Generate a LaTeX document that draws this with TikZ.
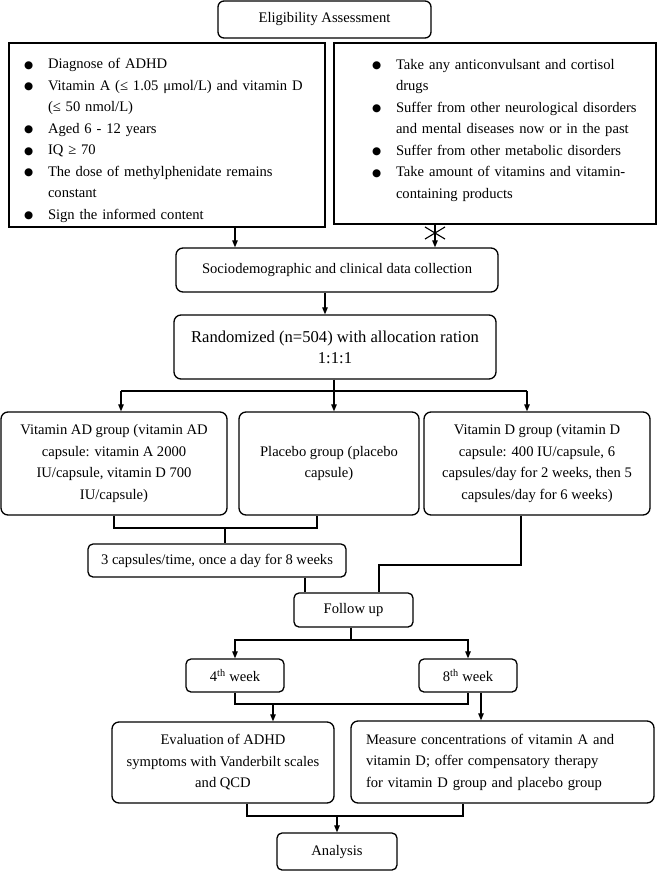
\documentclass[tikz,border=0pt]{standalone}
\usepackage{fontspec}
\setmainfont{Liberation Serif}
\newfontfamily\dotfont{DejaVu Sans}
\usetikzlibrary{arrows.meta,shapes.misc}
\newcommand{\dotmark}{\raisebox{0.5pt}{\dotfont\fontsize{10.5}{10.5}\selectfont ●}}
\newcommand{\bitem}[1]{\par\hangindent=24pt\hangafter=1\noindent\makebox[24pt][l]{\dotmark}#1}

\begin{document}
\begin{tikzpicture}[x=1pt,y=-1pt,
    every node/.style={font=\fontsize{14.6}{21.5}\selectfont, inner sep=0pt},
    rbox/.style={draw, line width=1.3pt, rounded corners=7pt, align=center},
    sbox/.style={draw, line width=1.3pt, align=left},
    arr/.style={-{Triangle[length=7pt,width=5.5pt]}},
    link/.style={line width=1.1pt}]
      \useasboundingbox (0,0) rectangle (657,871);
      \node[rbox, rounded corners=6pt, minimum width=213pt, minimum height=37pt] (elig) at (324.5,19.5) {Eligibility Assessment};
      \node[sbox, minimum width=316pt, minimum height=184pt, text width=286pt] (incl) at (167,135) {%
            \bitem{Diagnose of ADHD}
            \bitem{Vitamin A (≤ 1.05 μmol/L) and vitamin D\newline(≤ 50 nmol/L)}
            \bitem{Aged 6 - 12 years}
            \bitem{IQ ≥ 70}
            \bitem{The dose of methylphenidate remains\newline constant}
            \bitem{Sign the informed content}};
      \node[sbox, minimum width=322pt, minimum height=181pt, text width=300pt] (excl) at (495,133.5) {\leftskip=27pt\hyphenpenalty=10000%
            \bitem{Take any anticonvulsant and cortisol\newline drugs}
            \bitem{Suffer from other neurological disorders\newline and mental diseases now or in the past}
            \bitem{Suffer from other metabolic disorders}
            \bitem{Take amount of vitamins and vitamin-\newline containing products}\par\noindent\rule{0pt}{1pt}};
      \node[rbox, minimum width=322pt, minimum height=44pt] (socio) at (337,270) {Sociodemographic and clinical data collection};
      \node[rbox, minimum width=322pt, minimum height=64pt, font=\fontsize{16.6}{21}\selectfont] (rand) at (335,347) {Randomized (n=504) with allocation ration\\1:1:1};
      \node[rbox, minimum width=226pt, minimum height=103pt] (adgrp) at (114,463.5) {Vitamin AD group (vitamin AD\\capsule: vitamin A 2000\\IU/capsule, vitamin D 700\\IU/capsule)};
      \node[rbox, minimum width=180pt, minimum height=103pt] (plgrp) at (329,463.5) {Placebo group (placebo\\capsule)};
      \node[rbox, minimum width=226pt, minimum height=103pt] (dgrp) at (537,463.5) {Vitamin D group (vitamin D\\capsule: 400 IU/capsule, 6\\capsules/day for 2 weeks, then 5\\capsules/day for 6 weeks)};
      \node[rbox, rounded corners=5pt, minimum width=258pt, minimum height=33pt] (caps) at (217,560.5) {3 capsules/time, once a day for 8 weeks};
      \node[rbox, rounded corners=5pt, minimum width=119pt, minimum height=34pt] (follow) at (353.5,610) {Follow up};
      \node[rbox, rounded corners=5pt, minimum width=98pt, minimum height=33pt] (wk4) at (235,675.5) {4\textsuperscript{th} week};
      \node[rbox, rounded corners=5pt, minimum width=98pt, minimum height=33pt] (wk8) at (468,675.5) {8\textsuperscript{th} week};
      \node[rbox, minimum width=222pt, minimum height=81pt] (eval) at (223,762.5) {Evaluation of ADHD\\symptoms with Vanderbilt scales\\and QCD};
      \node[rbox, align=left, minimum width=303pt, minimum height=82pt, text width=273pt] (meas) at (502.5,762) {Measure concentrations of vitamin A and\\vitamin D; offer compensatory therapy\\for vitamin D group and placebo group};
      \node[rbox, rounded corners=5pt, minimum width=120pt, minimum height=37pt] (analysis) at (337,851.5) {Analysis};

      \coordinate (inA) at (235,0);
      \coordinate (inB) at (435,0);
      \coordinate (sA) at (325,0);
      \coordinate (splitR) at (334,391);
      \coordinate (armA) at (121,391);
      \coordinate (armC) at (527,391);
      \coordinate (jA) at (114,528);
      \coordinate (jB) at (317,528);
      \coordinate (jM) at (225,528);
      \coordinate (fA) at (305,0);
      \coordinate (dA) at (521,565);
      \coordinate (dB) at (379,565);
      \coordinate (fS) at (351,640);
      \coordinate (wJ) at (273,704);
      \coordinate (mA) at (481,0);
      \coordinate (aJ) at (247,816);
      \coordinate (aK) at (463,816);

      \draw[link,arr] (incl.south -| inA) -- (socio.north -| inA);
      \draw[link,arr] (excl.south -| inB) -- (socio.north -| inB);
      \node[cross out, draw, line width=1.1pt, minimum width=19pt, minimum height=11pt] (xmark) at (435,233) {};
      \draw[link,arr] (socio.south -| sA) -- (rand.north -| sA);
      \draw[link] (rand.south -| splitR) -- (splitR);
      \draw[link] (armA) -- (armC);
      \draw[link,arr] (armA) -- (armA |- adgrp.north);
      \draw[link,arr] (splitR) -- (splitR |- plgrp.north);
      \draw[link,arr] (armC) -- (armC |- dgrp.north);
      \draw[link] (adgrp.south -| jA) -- (jA) -- (jB) -- (plgrp.south -| jB);
      \draw[link] (jM) -- (jM |- caps.north);
      \draw[link] (caps.south -| fA) -- (follow.north -| fA);
      \draw[link] (dgrp.south -| dA) -- (dA) -- (dB) -- (follow.north -| dB);
      \draw[link] (follow.south -| fS) -- (fS);
      \draw[link,arr] (fS) -| (wk4.north);
      \draw[link,arr] (fS) -| (wk8.north);
      \draw[link] (wk4.south) |- (wk8.south |- wJ) -- (wk8.south);
      \draw[link,arr] (wJ) -- (wJ |- eval.north);
      \draw[link,arr] (wk8.south -| mA) -- (meas.north -| mA);
      \draw[link] (eval.south -| aJ) -- (aJ) -- (aK) -- (meas.south -| aK);
      \draw[link,arr] (analysis.north |- aJ) -- (analysis.north);
\end{tikzpicture}
\end{document}
